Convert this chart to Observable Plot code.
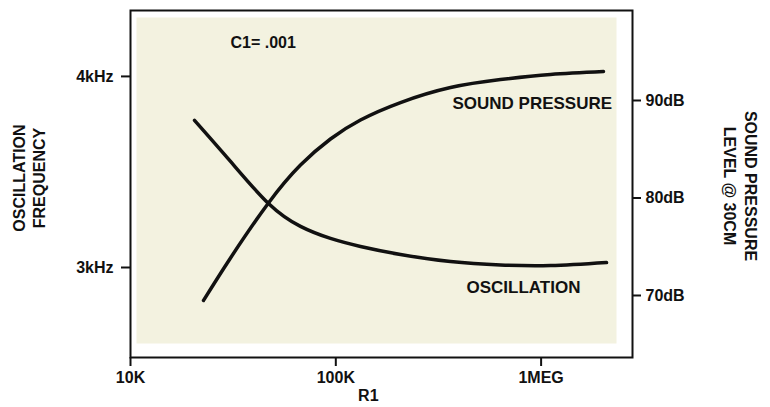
<!DOCTYPE html>
<html>
<head>
<meta charset="utf-8">
<script src="https://cdn.jsdelivr.net/npm/d3@7"></script>
<script src="https://cdn.jsdelivr.net/npm/@observablehq/plot@0.6"></script>
<style>
  html, body { margin: 0; padding: 0; background: #ffffff; }
  #chart { position: relative; width: 770px; height: 407px; }
  #chart svg { position: absolute; left: 0; top: 0; }
</style>
</head>
<body>
<div id="chart"></div>
<script>
// ---- Data ----
// Oscillation frequency (left axis, kHz) vs R1 (ohms)
const oscR1 = [20500, 30700, 47000, 67300, 94200, 131900, 206600, 362000, 634000, 1111000, 2083000];
const oscKHz = [3.770, 3.555, 3.335, 3.215, 3.152, 3.110, 3.068, 3.031, 3.013, 3.010, 3.026];

// Sound pressure level (right axis, dB) vs R1 (ohms)
const splR1 = [22680, 30700, 47000, 67300, 94200, 131900, 206600, 362000, 634000, 1111000, 2013000];
const splDB = [69.49, 73.85, 79.49, 83.38, 86.05, 88.0, 89.79, 91.33, 92.15, 92.67, 92.97];

// Axis ticks and labels
const xTicks = [1e4, 1e5, 1e6];
const xTickLabels = ["10K", "100K", "1MEG"];
const leftTicks = [3, 4];
const leftTickLabels = ["3kHz", "4kHz"];
const rightTicks = [70, 80, 90];
const rightTickLabels = ["70dB", "80dB", "90dB"];

// Scale domains
const xDomain = [1e4, 2.787e6];
const kHzDomain = [2.529, 4.345];
const dBDomain = [63.64, 99.23];

// Annotations
const annC1 = [{r: 30700, v: 4.173, t: "C1= .001"}];
const annOsc = [{r: 433000, v: 2.895, t: "OSCILLATION"}];
const annSpl = [{r: 370000, v: 89.7, t: "SOUND PRESSURE"}];

// ---- Build tables ----
const oscData = oscR1.map((r, i) => ({r, v: oscKHz[i]}));
const splData = splR1.map((r, i) => ({r, v: splDB[i]}));
const xLabel = new Map(xTicks.map((t, i) => [t, xTickLabels[i]]));
const lLabel = new Map(leftTicks.map((t, i) => [t, leftTickLabels[i]]));
const rLabel = new Map(rightTicks.map((t, i) => [t, rightTickLabels[i]]));

const FONT = "'Liberation Sans', Arial, Helvetica, sans-serif";
const common = {
  width: 770, height: 407,
  marginLeft: 130, marginRight: 138, marginTop: 10, marginBottom: 50,
  style: {fontFamily: FONT, fontSize: "16px", color: "#111", background: "transparent"}
};

const plot1 = Plot.plot({
  ...common,
  x: {type: "log", domain: xDomain, axis: null},
  y: {domain: kHzDomain, axis: null},
  marks: [
    Plot.frame({fill: "#f3f2e0", stroke: null, insetLeft: 6, insetTop: 7, insetRight: 16, insetBottom: 14}),
    Plot.frame({stroke: "#111", strokeWidth: 2}),
    Plot.axisX({
      ticks: xTicks, tickFormat: d => xLabel.get(d), tickSize: 9, tickPadding: 5,
      strokeWidth: 2, fontWeight: "bold", fontSize: 16, label: null
    }),
    Plot.axisY({
      anchor: "left", ticks: leftTicks, tickFormat: d => lLabel.get(d), tickSize: 9, tickPadding: 8,
      strokeWidth: 2, fontWeight: "bold", fontSize: 16, label: null
    }),
    Plot.text(["R1"], {x: [144000], frameAnchor: "bottom", dy: 43, fontSize: 16, fontWeight: "bold"}),
    Plot.text(["OSCILLATION\nFREQUENCY"], {
      frameAnchor: "left", dx: -102, dy: -6, rotate: -90, textAnchor: "middle",
      lineAnchor: "middle", lineHeight: 1.25, fontSize: 16, fontWeight: "bold"
    }),
    Plot.line(oscData, {x: "r", y: "v", curve: "natural", stroke: "#111", strokeWidth: 3.5}),
    Plot.text(annC1, {x: "r", y: "v", text: "t", textAnchor: "start", fontSize: 16, fontWeight: "bold"}),
    Plot.text(annOsc, {x: "r", y: "v", text: "t", textAnchor: "start", fontSize: 17, fontWeight: "bold"})
  ]
});

const plot2 = Plot.plot({
  ...common,
  x: {type: "log", domain: xDomain, axis: null},
  y: {domain: dBDomain, axis: null},
  marks: [
    Plot.axisY({
      anchor: "right", ticks: rightTicks, tickFormat: d => rLabel.get(d), tickSize: 8, tickPadding: 5,
      strokeWidth: 2, fontWeight: "bold", fontSize: 16, label: null
    }),
    Plot.text(["SOUND PRESSURE\nLEVEL @ 30CM"], {
      frameAnchor: "right", dx: 109, dy: 2, rotate: 90, textAnchor: "middle",
      lineAnchor: "middle", lineHeight: 1.35, fontSize: 16, fontWeight: "bold"
    }),
    Plot.line(splData, {x: "r", y: "v", curve: "natural", stroke: "#111", strokeWidth: 3.5}),
    Plot.text(annSpl, {x: "r", y: "v", text: "t", textAnchor: "start", fontSize: 17, fontWeight: "bold"})
  ]
});

const chart = document.getElementById("chart");
chart.appendChild(plot1);
chart.appendChild(plot2);
</script>
</body>
</html>
